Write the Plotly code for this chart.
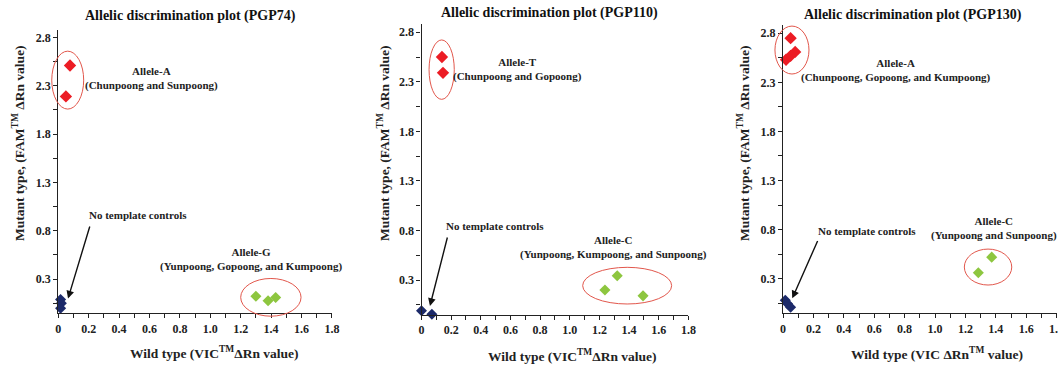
import plotly.graph_objects as go

W, H = 1058, 367

# ---------------- data ----------------
panel_titles = ["Allelic discrimination plot (PGP74)",
                "Allelic discrimination plot (PGP110)",
                "Allelic discrimination plot (PGP130)"]

x_titles = ["Wild type (VIC<sup>TM</sup>ΔRn value)",
            "Wild type (VIC<sup>TM</sup>ΔRn value)",
            "Wild type (VIC ΔRn<sup>TM</sup> value)"]
y_title = "Mutant type, (FAM<sup>TM</sup> ΔRn value)"

x_tick_vals = [0, 0.2, 0.4, 0.6, 0.8, 1.0, 1.2, 1.4, 1.6, 1.8]
x_tick_text = ["0", "0.2", "0.4", "0.6", "0.8", "1.0", "1.2", "1.4", "1.6", "1.8"]
y_tick_vals = [0.3, 0.8, 1.3, 1.8, 2.3, 2.8]
y_tick_text = ["0.3", "0.8", "1.3", "1.8", "2.3", "2.8"]

# PGP74
pgp74_mut_x = [0.077, 0.05]
pgp74_mut_y = [2.51, 2.19]
pgp74_wild_x = [1.30, 1.38, 1.43]
pgp74_wild_y = [0.124, 0.076, 0.11]
pgp74_ntc_x = [0.015, 0.02, 0.015]
pgp74_ntc_y = [0.09, 0.05, 0.0]

# PGP110
pgp110_mut_x = [0.138, 0.145]
pgp110_mut_y = [2.55, 2.39]
pgp110_wild_x = [1.237, 1.32, 1.494]
pgp110_wild_y = [0.20, 0.343, 0.14]
pgp110_ntc_x = [0.0, 0.07]
pgp110_ntc_y = [-0.01, -0.045]

# PGP130
pgp130_mut_x = [0.05, 0.02, 0.05, 0.08]
pgp130_mut_y = [2.75, 2.53, 2.57, 2.61]
pgp130_wild_x = [1.285, 1.373]
pgp130_wild_y = [0.36, 0.52]
pgp130_ntc_x = [0.015, 0.03, 0.05]
pgp130_ntc_y = [0.08, 0.045, 0.01]

mut_labels = ["Allele-A<br>(Chunpoong and Sunpoong)",
              "Allele-T<br>(Chunpoong and Gopoong)",
              "Allele-A<br>(Chunpoong, Gopoong, and Kumpoong)"]
wild_labels = ["Allele-G<br>(Yunpoong, Gopoong, and Kumpoong)",
               "Allele-C<br>(Yunpoong, Kumpoong, and Sunpoong)",
               "Allele-C<br>(Yunpoong and Sunpoong)"]
ntc_label = "No template controls"

# ---------------- layout helpers ----------------
X_RANGE = [0, 1.8]
Y_RANGE = [-0.05, 2.88]
# subplot areas in pixels: (left, right, top, bottom)
areas = [(58.3, 331.9, 29.7, 313.0),
         (421.5, 688.4, 24.3, 314.7),
         (783.0, 1056.6, 25.4, 313.1)]

def to_paper(i, x, y):
    l, r, t, b = areas[i]
    px = l + (x - X_RANGE[0]) / (X_RANGE[1] - X_RANGE[0]) * (r - l)
    py = b - (y - Y_RANGE[0]) / (Y_RANGE[1] - Y_RANGE[0]) * (b - t)
    return px / W, 1 - py / H

RED = "#ec1c24"
GREEN = "#8dc63f"
NAVY = "#1c2a6a"
ELL = "#e2574c"
FONT = "Liberation Serif"

panels = [
    (pgp74_mut_x, pgp74_mut_y, pgp74_wild_x, pgp74_wild_y, pgp74_ntc_x, pgp74_ntc_y),
    (pgp110_mut_x, pgp110_mut_y, pgp110_wild_x, pgp110_wild_y, pgp110_ntc_x, pgp110_ntc_y),
    (pgp130_mut_x, pgp130_mut_y, pgp130_wild_x, pgp130_wild_y, pgp130_ntc_x, pgp130_ntc_y),
]

# label positions (data coords) and ellipse extents (data coords)
mut_label_pos = [(0.616, 2.38), (0.65, 2.424), (0.743, 2.42)]
wild_label_pos = [(1.27, 0.505), (1.298, 0.628), (1.388, 0.812)]
ntc_label_pos = [(0.524, 0.962), (0.496, 0.845), (0.553, 0.789)]
arrow_tail = [(0.21, 0.86), (0.177, 0.744), (0.232, 0.70)]
arrow_head = [(0.064, 0.10), (0.057, 0.038), (0.061, 0.10)]
mut_ellipse = [(-0.043, 0.167, 2.059, 2.658), (0.051, 0.221, 2.123, 2.722), (-0.053, 0.171, 2.385, 2.873)]
wild_ellipse = [(1.20, 1.597, -0.083, 0.307), (1.087, 1.687, 0.058, 0.428), (1.193, 1.505, 0.236, 0.602)]

title_pos = [(190.5, 16.0), (549.7, 13.0), (913.3, 15.0)]
xtitle_pos = [(214, 352), (572, 355), (937, 353)]
ytitle_pos = [(18, 143), (383, 143), (743, 143)]

fig = go.Figure()
annotations = []
shapes = []

for i, (mx, my, wx, wy, nx, ny) in enumerate(panels):
    xa = "x" if i == 0 else f"x{i+1}"
    ya = "y" if i == 0 else f"y{i+1}"
    for xs, ys, col, sz in [(mx, my, RED, 9.5), (wx, wy, GREEN, 8.5), (nx, ny, NAVY, 8.5)]:
        fig.add_trace(go.Scatter(x=xs, y=ys, mode="markers", xaxis=xa, yaxis=ya,
                                 marker=dict(symbol="diamond", size=sz, color=col,
                                             line=dict(width=0)),
                                 cliponaxis=False, showlegend=False, hoverinfo="skip"))
    l, r, t, b = areas[i]
    axis_common = dict(showline=True, linecolor="#222", linewidth=1.3, mirror=False,
                       showgrid=False, zeroline=False, ticks="outside", ticklen=4,
                       tickwidth=1.2, tickcolor="#222", automargin=False,
                       ticklabeloverflow="allow",
                       tickfont=dict(family=FONT, size=12, color="#222", weight="bold"))
    fig.layout[("xaxis" if i == 0 else f"xaxis{i+1}")] = dict(
        domain=[l / W, r / W], range=X_RANGE, anchor=ya,
        tickmode="array", tickvals=x_tick_vals, ticktext=x_tick_text,
        minor=dict(tickmode="array", tickvals=[0.1, 0.3, 0.5, 0.7, 0.9, 1.1, 1.3, 1.5, 1.7],
                   ticks="outside", ticklen=4, tickwidth=1.2, tickcolor="#222"),
        **axis_common)
    fig.layout[("yaxis" if i == 0 else f"yaxis{i+1}")] = dict(
        domain=[1 - b / H, 1 - t / H], range=Y_RANGE, anchor=xa,
        tickmode="array", tickvals=y_tick_vals, ticktext=y_tick_text,
        minor=dict(tickmode="array", tickvals=[0.05, 0.55, 1.05, 1.55, 2.05, 2.55],
                   ticks="outside", ticklen=4, tickwidth=1.2, tickcolor="#222"),
        **axis_common)

    # ellipses
    for (x0, x1, y0, y1) in [mut_ellipse[i], wild_ellipse[i]]:
        p0 = to_paper(i, x0, y0)
        p1 = to_paper(i, x1, y1)
        shapes.append(dict(type="circle", xref="paper", yref="paper",
                           x0=p0[0], x1=p1[0], y0=p0[1], y1=p1[1],
                           line=dict(color=ELL, width=1)))

    lab_font = dict(family=FONT, size=11, color="#222", weight="bold")
    for (txt, pos) in [(mut_labels[i], mut_label_pos[i]), (wild_labels[i], wild_label_pos[i]),
                       (ntc_label, ntc_label_pos[i])]:
        annotations.append(dict(text=txt, x=pos[0], y=pos[1], xref=xa, yref=ya,
                                showarrow=False, font=lab_font, xanchor="center",
                                yanchor="middle", align="center"))
    annotations.append(dict(text="", x=arrow_head[i][0], y=arrow_head[i][1], xref=xa, yref=ya,
                            ax=arrow_tail[i][0], ay=arrow_tail[i][1], axref=xa, ayref=ya,
                            showarrow=True, arrowhead=2, arrowsize=1.1, arrowwidth=1.4,
                            arrowcolor="#111", standoff=0, startstandoff=0))

    # titles
    tx, ty = title_pos[i]
    annotations.append(dict(text=panel_titles[i], x=tx / W, y=1 - ty / H, xref="paper", yref="paper",
                            showarrow=False, xanchor="center", yanchor="middle",
                            font=dict(family=FONT, size=14, color="#111", weight="bold")))
    xx, xy = xtitle_pos[i]
    annotations.append(dict(text=x_titles[i], x=xx / W, y=1 - xy / H, xref="paper", yref="paper",
                            showarrow=False, xanchor="center", yanchor="middle",
                            font=dict(family=FONT, size=13.5, color="#222", weight="bold")))
    yx, yy = ytitle_pos[i]
    annotations.append(dict(text=y_title, x=yx / W, y=1 - yy / H, xref="paper", yref="paper",
                            showarrow=False, xanchor="center", yanchor="middle", textangle=-90,
                            font=dict(family=FONT, size=13.5, color="#222", weight="bold")))

fig.update_layout(width=W, height=H, margin=dict(l=0, r=0, t=0, b=0),
                  paper_bgcolor="white", plot_bgcolor="white",
                  annotations=annotations, shapes=shapes, showlegend=False)

fig.write_html("out.html", config={"displayModeBar": False},
               post_script="document.body.style.margin='0';document.body.style.overflow='hidden';")
